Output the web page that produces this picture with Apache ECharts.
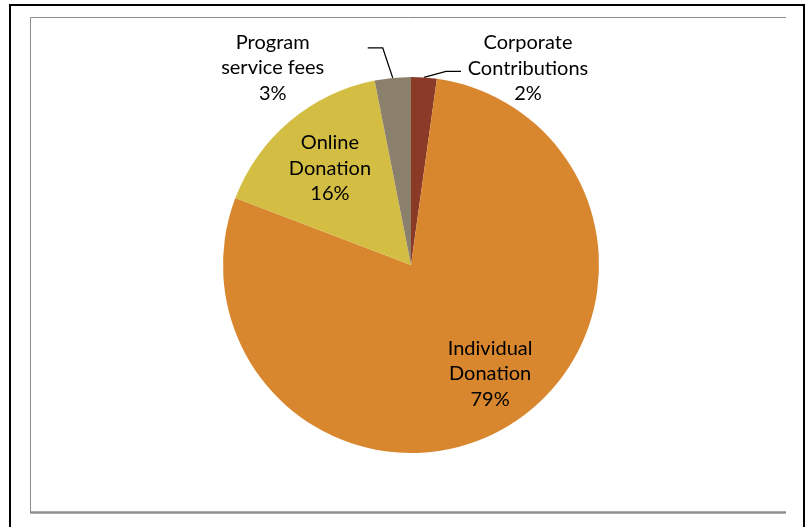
<!DOCTYPE html>
<html>
<head>
<meta charset="utf-8">
<script src="https://cdn.jsdelivr.net/npm/echarts@6.0.0/dist/echarts.min.js"></script>
<style>
  html, body { margin: 0; padding: 0; background: #fff; }
  #main { width: 810px; height: 527px; }
</style>
</head>
<body>
<div id="main"></div>
<script>
// funding sources (percent of total)
var categories = ['Corporate\nContributions', 'Individual\nDonation', 'Online\nDonation', 'Program\nservice fees'];
var shares = [2.2, 78.6, 16.1, 3.1];
var colors = ['#8b3a28', '#d8872f', '#d3be43', '#8b806b'];

var pieCenter = [411, 265];
var pieRadius = 188;

// outside labels: leader line bends + label offset, relative to the slice edge point
var outsideLabels = {
  0: { bend: [22, -6], end: [37, -6], label: [104, -9] },
  3: { bend: [-10, -30], end: [-25, -30], label: [-120, -10] }
};
// inside labels: push outwards from the centre
var insideLabels = {
  1: { k: 1.42, dx: 9, dy: -10 },
  2: { k: 1.36, dx: 4, dy: 4 }
};

var chart = echarts.init(document.getElementById('main'), null, { renderer: 'canvas' });

var pieData = [];
for (var i = 0; i < categories.length; i++) {
  pieData.push({
    name: categories[i],
    value: shares[i],
    itemStyle: { color: colors[i] },
    label: { position: outsideLabels[i] ? 'outside' : 'inside' },
    labelLine: { show: !!outsideLabels[i] }
  });
}

function layoutLabel(params) {
  var i = params.dataIndex;
  var r = params.labelRect;
  if (outsideLabels[i] && params.labelLinePoints) {
    var o = outsideLabels[i];
    var p0 = params.labelLinePoints[0];
    return {
      x: p0[0] + o.label[0],
      y: p0[1] + o.label[1],
      align: 'center',
      verticalAlign: 'middle',
      labelLinePoints: [
        [p0[0], p0[1]],
        [p0[0] + o.bend[0], p0[1] + o.bend[1]],
        [p0[0] + o.end[0], p0[1] + o.end[1]]
      ]
    };
  }
  var s = insideLabels[i];
  if (s) {
    var cx = r.x + r.width / 2;
    var cy = r.y + r.height / 2;
    return {
      x: pieCenter[0] + (cx - pieCenter[0]) * s.k + s.dx,
      y: pieCenter[1] + (cy - pieCenter[1]) * s.k + s.dy,
      align: 'center',
      verticalAlign: 'middle'
    };
  }
  return {};
}

chart.setOption({
  backgroundColor: '#ffffff',
  animation: false,
  graphic: [
    { // outer black frame (open at bottom)
      type: 'polyline',
      shape: { points: [[10, 540], [10, 5], [804, 5], [804, 540]] },
      style: { fill: null, stroke: '#000', lineWidth: 2 }
    },
    { // inner plot frame
      type: 'polyline',
      shape: { points: [[786, 17.5], [30.5, 17.5], [30.5, 512]] },
      style: { fill: null, stroke: '#8c8c8c', lineWidth: 1 }
    },
    {
      type: 'line',
      shape: { x1: 30, y1: 512.5, x2: 786, y2: 512.5 },
      style: { stroke: '#8f8f8f', lineWidth: 2.5 }
    }
  ],
  series: [{
    type: 'pie',
    center: pieCenter,
    radius: pieRadius,
    startAngle: 90,
    clockwise: true,
    avoidLabelOverlap: false,
    data: pieData,
    label: {
      show: true,
      color: '#000',
      fontFamily: 'Lato',
      fontSize: 20,
      lineHeight: 25.5,
      align: 'center',
      formatter: function (p) {
        return p.name + '\n' + Math.round(p.percent) + '%';
      }
    },
    labelLine: {
      show: true,
      length: 20,
      length2: 10,
      lineStyle: { color: '#000', width: 1.3 }
    },
    labelLayout: layoutLabel,
    emphasis: { disabled: true }
  }]
});
</script>
</body>
</html>
